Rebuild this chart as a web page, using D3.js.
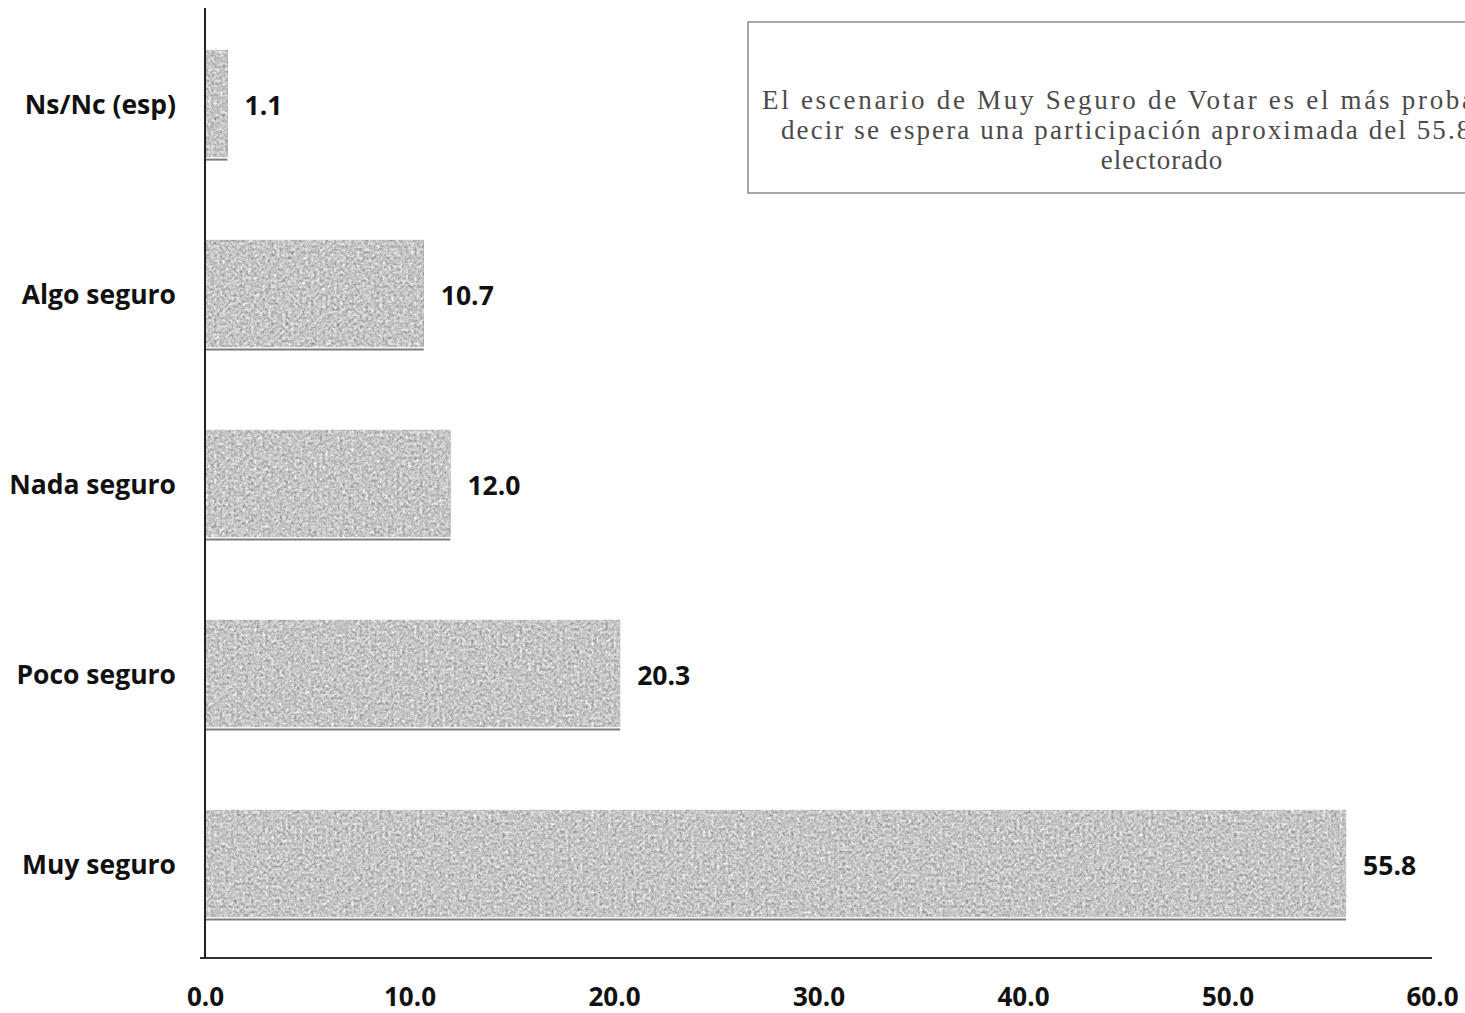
<!DOCTYPE html>
<html>
<head>
<meta charset="utf-8">
<script src="https://cdn.jsdelivr.net/npm/d3@7"></script>
<style>
  html, body { margin: 0; padding: 0; background: #fff; overflow: hidden; }
  svg { display: block; }
</style>
</head>
<body>
<svg id="chart" width="1465" height="1013"></svg>
<script>
// ---- data ----
const categories = ["Ns/Nc (esp)", "Algo seguro", "Nada seguro", "Poco seguro", "Muy seguro"];
const values = [1.1, 10.7, 12.0, 20.3, 55.8];
const tickValues = [0, 10, 20, 30, 40, 50, 60];
const annotationLines = [
  "El escenario de Muy Seguro de Votar es el más probable, es",
  "decir se espera una participación aproximada del 55.8% del",
  "electorado"
];

// ---- layout ----
const svg = d3.select("#chart");

const x = d3.scaleLinear().domain([0, 60]).range([205, 1432]);
const y = d3.scaleBand().domain(categories).range([10, 960])
  .paddingInner(0.42).paddingOuter(0.21);
const axisY = 958;
const labelFont = "'Open Sans', sans-serif";

// grain filter for the scanned-looking bars
const defs = svg.append("defs");
const f = defs.append("filter").attr("id", "grain")
  .attr("x", 0).attr("y", 0).attr("width", 1).attr("height", 1)
  .attr("color-interpolation-filters", "sRGB");
f.append("feTurbulence").attr("type", "fractalNoise")
  .attr("baseFrequency", 0.35).attr("numOctaves", 4).attr("seed", 11).attr("result", "noise");
f.append("feColorMatrix").attr("in", "noise").attr("type", "matrix")
  .attr("values", "0.33 0.33 0.33 0 0  0.33 0.33 0.33 0 0  0.33 0.33 0.33 0 0  0 0 0 0 1")
  .attr("result", "gnoise");
f.append("feComposite").attr("in", "SourceGraphic").attr("in2", "gnoise")
  .attr("operator", "arithmetic")
  .attr("k1", 0).attr("k2", 1).attr("k3", 0.9).attr("k4", -0.45)
  .attr("result", "mix");
f.append("feComposite").attr("in", "mix").attr("in2", "SourceGraphic").attr("operator", "in");

const rows = categories.map((c, i) => ({ c, v: values[i] }));

// bars
svg.append("g").selectAll("rect").data(rows).join("rect")
  .attr("x", x(0))
  .attr("y", d => y(d.c))
  .attr("width", d => x(d.v) - x(0))
  .attr("height", y.bandwidth() - 3)
  .attr("fill", "#c6c6c6")
  .attr("filter", "url(#grain)");

// dark bottom edge of bars
svg.append("g").selectAll("line").data(rows).join("line")
  .attr("x1", x(0))
  .attr("x2", d => x(d.v))
  .attr("y1", d => y(d.c) + y.bandwidth() - 0.5)
  .attr("y2", d => y(d.c) + y.bandwidth() - 0.5)
  .attr("stroke", "#7d7d7d")
  .attr("stroke-width", 2);

// value labels
svg.append("g").selectAll("text").data(rows).join("text")
  .attr("x", d => x(d.v) + 17)
  .attr("y", d => y(d.c) + y.bandwidth() / 2)
  .attr("dy", "0.36em")
  .attr("font-family", labelFont)
  .attr("font-weight", 700)
  .attr("font-size", 26.5)
  .attr("fill", "#111")
  .text(d => d3.format(".1f")(d.v));

// x axis
const gx = svg.append("g").attr("transform", `translate(0,${axisY})`)
  .call(d3.axisBottom(x).tickValues(tickValues).tickSize(0).tickPadding(30)
    .tickFormat(d3.format(".1f")));
gx.select(".domain").attr("stroke", "#333").attr("stroke-width", 2)
  .attr("d", `M200,0H${x(60)}`);
gx.selectAll("text")
  .attr("font-family", labelFont)
  .attr("font-weight", 700)
  .attr("font-size", 26)
  .attr("fill", "#111");

// y axis
const gy = svg.append("g").attr("transform", `translate(${x(0)},0)`)
  .call(d3.axisLeft(y).tickSize(0).tickPadding(29).tickSizeOuter(0));
gy.select(".domain").attr("stroke", "#222").attr("stroke-width", 2)
  .attr("d", `M0,8V${axisY}`);
gy.selectAll("text")
  .attr("font-family", labelFont)
  .attr("font-weight", 700)
  .attr("font-size", 26.5)
  .attr("fill", "#111")
  .attr("dy", "0.35em");

// annotation box (extends past the right edge as in the source)
const boxX = 748, boxY = 22, boxW = 828, boxH = 171;
const cx = 1162;
const lineWidths = [800, 762, null];
const ann = svg.append("g");
ann.append("rect")
  .attr("x", boxX).attr("y", boxY).attr("width", boxW).attr("height", boxH)
  .attr("fill", "#fff").attr("stroke", "#8a8a8a").attr("stroke-width", 1.5);
ann.append("g").selectAll("text").data(annotationLines).join("text")
  .attr("x", cx)
  .attr("y", (d, i) => 100 + i * 30)
  .attr("dy", "0.32em")
  .attr("text-anchor", "middle")
  .attr("font-family", "'Liberation Serif', 'Times New Roman', serif")
  .attr("font-size", 27)
  .attr("fill", "#4a4a4a")
  .each(function(d, i) {
    if (lineWidths[i]) {
      d3.select(this).attr("textLength", lineWidths[i]).attr("lengthAdjust", "spacing");
    } else {
      d3.select(this).attr("letter-spacing", 1);
    }
  })
  .text(d => d);
</script>
</body>
</html>
